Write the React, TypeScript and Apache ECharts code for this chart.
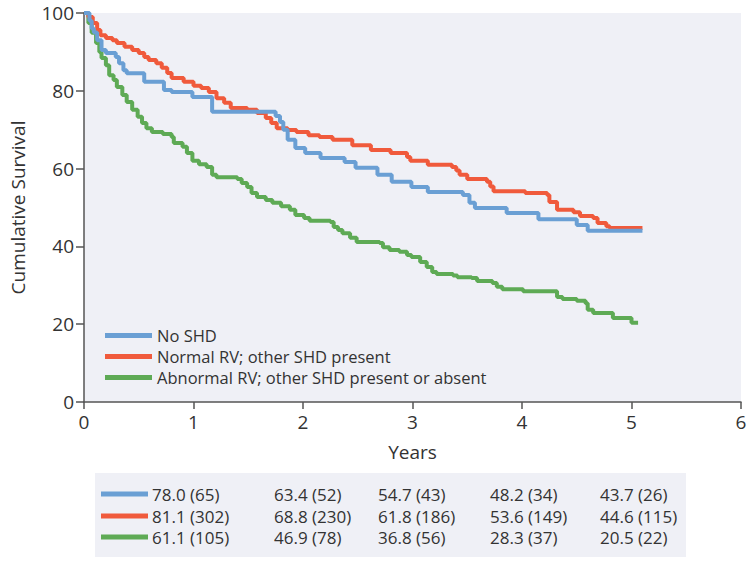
import React, { useEffect, useRef } from "react";
import * as echarts from "echarts";

const groupNames = [
  "No SHD",
  "Normal RV; other SHD present",
  "Abnormal RV; other SHD present or absent",
];

// Kaplan-Meier step points [years, cumulative survival %]
const noShd: [number, number][] = [
  [0, 100], [0.05, 98], [0.07, 96], [0.09, 95], [0.12, 93], [0.16, 90.5], [0.2, 89.7],
  [0.29, 88.7], [0.32, 87.1], [0.36, 85.3], [0.39, 84.5], [0.55, 82.3], [0.73, 80.2],
  [0.8, 79.7], [0.99, 78.4], [1.17, 74.6], [1.75, 73.5], [1.79, 72], [1.82, 70],
  [1.86, 67.4], [1.93, 65.3], [2.02, 64], [2.16, 62.7], [2.38, 61.7], [2.48, 60.2],
  [2.68, 58.4], [2.81, 56.6], [2.99, 55.3], [3.14, 54], [3.46, 53.2], [3.52, 51.2],
  [3.57, 49.9], [3.86, 48.6], [4.15, 47], [4.5, 45.5], [4.6, 44], [5.1, 44],
];

const normalRv: [number, number][] = [
  [0, 100], [0.04, 99], [0.08, 97.4], [0.12, 95.6], [0.15, 94.3], [0.2, 93.6], [0.26, 93],
  [0.3, 92.3], [0.37, 91.3], [0.44, 90.5], [0.5, 89.7], [0.55, 88.7], [0.59, 87.9],
  [0.66, 87.1], [0.71, 85.9], [0.76, 84.6], [0.8, 83.3], [0.91, 82.3], [1.0, 81.3],
  [1.07, 80.7], [1.14, 79.7], [1.21, 78.1], [1.28, 76.9], [1.34, 75.6], [1.49, 75.1],
  [1.58, 74.3], [1.66, 73], [1.71, 71.7], [1.76, 70.4], [1.86, 69.9], [1.94, 69.4],
  [2.05, 68.6], [2.15, 68.1], [2.27, 67.4], [2.45, 66], [2.62, 64.8], [2.8, 64],
  [2.95, 63], [2.98, 62], [3.14, 61], [3.36, 60.4], [3.4, 59.5], [3.43, 58.4],
  [3.5, 57.3], [3.68, 56.6], [3.71, 55.4], [3.74, 54.2], [4.03, 53.7], [4.23, 53.2],
  [4.25, 51.4], [4.32, 49.4], [4.47, 48.8], [4.53, 47.8], [4.65, 47.3], [4.69, 46],
  [4.77, 45.2], [4.8, 44.7], [5.1, 44.7],
];

const abnormalRv: [number, number][] = [
  [0, 100], [0.04, 97.4], [0.07, 94.9], [0.11, 92.3], [0.14, 90], [0.16, 88.4],
  [0.2, 86.6], [0.23, 84], [0.27, 82.8], [0.3, 81], [0.35, 78.9], [0.39, 77.1],
  [0.44, 75.1], [0.49, 73.3], [0.53, 71.7], [0.57, 70.4], [0.62, 69.4], [0.72, 68.9],
  [0.8, 68.1], [0.82, 66.6], [0.9, 65.6], [0.94, 64], [0.99, 62], [1.05, 61.1],
  [1.12, 60.4], [1.17, 58.4], [1.21, 57.8], [1.4, 57.3], [1.44, 56.3], [1.49, 55.3],
  [1.53, 53.7], [1.58, 52.7], [1.66, 51.9], [1.72, 51.2], [1.8, 50.3], [1.88, 49.4],
  [1.93, 48.1], [2.01, 47.3], [2.06, 46.6], [2.25, 46.3], [2.28, 45], [2.32, 44.2],
  [2.36, 43.4], [2.43, 42.2], [2.49, 41.1], [2.7, 40.9], [2.73, 39.8], [2.79, 39.1],
  [2.88, 38.6], [2.95, 37.8], [2.99, 37.3], [3.07, 36], [3.13, 34.7], [3.18, 33.4],
  [3.22, 32.9], [3.37, 32.5], [3.41, 32.1], [3.54, 31.9], [3.59, 31.1], [3.73, 30.6],
  [3.77, 29.6], [3.82, 29], [4.01, 28.5], [4.32, 27], [4.37, 26.5], [4.5, 26],
  [4.58, 25.4], [4.6, 23.7], [4.65, 22.9], [4.83, 21.6], [5.0, 20.4], [5.06, 20.4],
];

// Table: survival % at years 1-5 and (number at risk)
const survNoShd = [78.0, 63.4, 54.7, 48.2, 43.7];
const riskNoShd = [65, 52, 43, 34, 26];
const survNormalRv = [81.1, 68.8, 61.8, 53.6, 44.6];
const riskNormalRv = [302, 230, 186, 149, 115];
const survAbnormalRv = [61.1, 46.9, 36.8, 28.3, 20.5];
const riskAbnormalRv = [105, 78, 56, 37, 22];

const xMin = 0, xMax = 6, xInterval = 1;
const yMin = 0, yMax = 100, yInterval = 20;

const COLORS = ["#6a9fd4", "#f05a3c", "#5eaa55"];
const FONT = "'Open Sans', 'Noto Sans', sans-serif";
const TEXT = "#333333";
const BG = "#eff0f6";

export default function App() {
  const ref = useRef<HTMLDivElement>(null);
  useEffect(() => {
    document.body.style.margin = "0";
    if (!ref.current) return;
    const chart = echarts.init(ref.current, undefined, { renderer: "svg" });

    const seriesData = [noShd, normalRv, abnormalRv];
    const tableSurv = [survNoShd, survNormalRv, survAbnormalRv];
    const tableRisk = [riskNoShd, riskNormalRv, riskAbnormalRv];
    const colX = [152, 274, 378, 490, 600];
    const rowY = [494, 516, 537];

    const graphics: any[] = [
      { type: "rect", shape: { x: 95, y: 473, width: 591, height: 84 }, style: { fill: BG }, silent: true },
    ];
    tableSurv.forEach((row, r) => {
      graphics.push({
        type: "rect",
        shape: { x: 101, y: rowY[r] - 2.5, width: 47, height: 5 },
        style: { fill: COLORS[r] },
      });
      row.forEach((v, c) => {
        graphics.push({
          type: "text",
          x: colX[c],
          y: rowY[r],
          style: {
            text: `${v.toFixed(1)} (${tableRisk[r][c]})`,
            fill: TEXT,
            font: `17px ${FONT}`,
            verticalAlign: "middle",
            align: "left",
          },
        });
      });
    });

    chart.setOption({
      animation: false,
      textStyle: { fontFamily: FONT },
      grid: {
        left: 84, right: 9, top: 13, bottom: 161,
        show: true, backgroundColor: BG, borderWidth: 0,
      },
      legend: {
        data: groupNames,
        orient: "vertical",
        left: 100,
        top: 320,
        icon: "rect",
        itemWidth: 47,
        itemHeight: 5,
        itemGap: 0,
        textStyle: { fontSize: 16.5, color: TEXT, lineHeight: 21, fontFamily: FONT },
      },
      xAxis: {
        type: "value",
        min: xMin, max: xMax, interval: xInterval,
        name: "Years",
        nameLocation: "middle",
        nameGap: 40,
        nameTextStyle: { fontSize: 19, color: TEXT, fontWeight: 500, fontFamily: FONT },
        axisLine: { show: true, lineStyle: { color: "#555", width: 1.5 } },
        axisTick: { show: true, length: 7, lineStyle: { color: "#555", width: 1.5 } },
        axisLabel: { fontSize: 19, color: TEXT, margin: 10, fontFamily: FONT },
        splitLine: { show: false },
      },
      yAxis: {
        type: "value",
        min: yMin, max: yMax, interval: yInterval,
        name: "Cumulative Survival",
        nameLocation: "middle",
        nameGap: 57,
        nameTextStyle: { fontSize: 19, color: TEXT, fontWeight: 500, fontFamily: FONT },
        axisLine: { show: true, lineStyle: { color: "#555", width: 1.5 } },
        axisTick: { show: true, length: 8, lineStyle: { color: "#555", width: 1.5 } },
        axisLabel: { fontSize: 19, color: TEXT, margin: 10, fontFamily: FONT },
        splitLine: { show: false },
      },
      series: seriesData.map((d, i) => ({
        name: groupNames[i],
        type: "line",
        step: "end",
        data: d,
        showSymbol: false,
        symbol: "none",
        color: COLORS[i],
        lineStyle: { width: 4, color: COLORS[i] },
        z: 3 - i,
      })),
      graphic: graphics,
    });
    return () => chart.dispose();
  }, []);
  return <div ref={ref} style={{ width: 750, height: 563 }} />;
}
